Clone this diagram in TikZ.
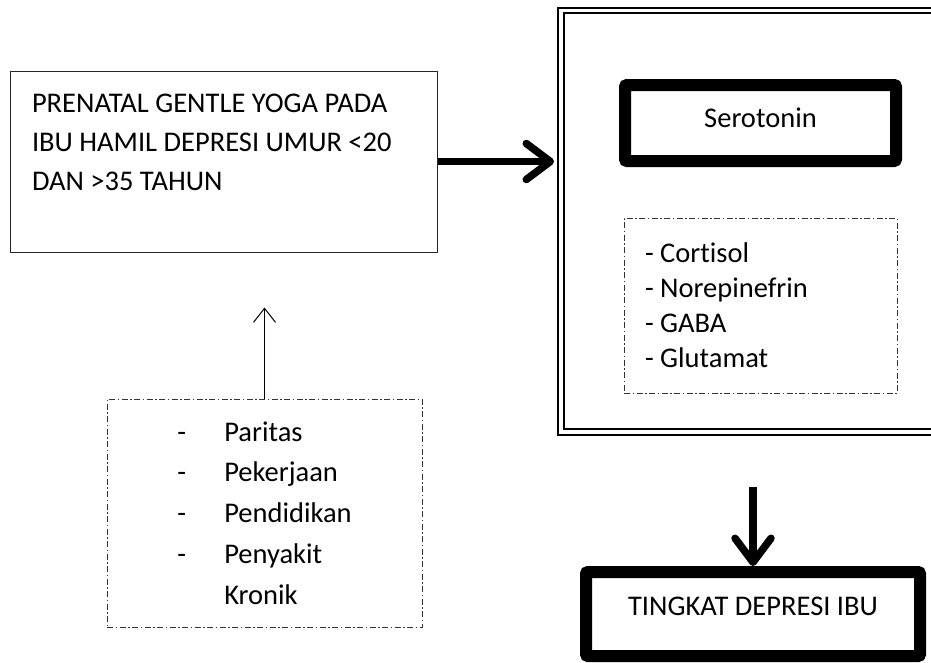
\documentclass[tikz,border=0pt]{standalone}
\usepackage{fontspec}
\setmainfont{Carlito}[Ligatures={NoCommon}]
\usetikzlibrary{arrows.meta,positioning}

\begin{document}
\begin{tikzpicture}[x=1pt, y=-1pt, thick, auto]


\tikzstyle{box} = [
    rectangle, draw=black!85, line width=1pt, inner sep=0pt, font=\fontsize{28.5}{39}\selectfont]
\tikzstyle{dotbox} = [box, draw=black!80, dash pattern=on 6pt off 2.5pt on 1.5pt off 2.5pt]
\tikzstyle{boldbox} = [box, draw=black, line width=12pt, rounded corners=2pt]
\tikzstyle{doublebox} = [rectangle, draw=black, line width=2pt, double, double distance=3.5pt]
\tikzstyle{heavy} = [line width=7.5pt, -{Straight Barb[length=24pt, width=36pt, round]}]

\useasboundingbox (0,0) rectangle (931,662);
\clip (0,0) rectangle (931,662);

\node[box, minimum width=427pt, minimum height=181pt, text width=383pt, align=flush left] at (223.5,161.5) (yoga) {PRENATAL GENTLE YOGA PADA\\IBU HAMIL DEPRESI UMUR <20\\DAN >35 TAHUN\\~};

\node[doublebox, minimum width=384pt, minimum height=421.5pt] at (753,221.25) (frame) {};

\node[boldbox, minimum width=271pt, minimum height=76pt, text depth=10pt] at (760.5,123) (serotonin) {Serotonin};

\node[dotbox, minimum width=273pt, minimum height=175pt, text width=231pt, align=flush left, font=\fontsize{28.5}{35}\selectfont] at (760.5,305.5) (hormon) {- Cortisol\\- Norepinefrin\\- GABA\\- Glutamat};

\node[dotbox, minimum width=315pt, minimum height=228pt, align=flush left, font=\fontsize{28.5}{40.75}\selectfont] at (264.5,513) (faktor) {\makebox[47pt][l]{-}Paritas\\\makebox[47pt][l]{-}Pekerjaan\\\makebox[47pt][l]{-}Pendidikan\\\makebox[47pt][l]{-}Penyakit\\\makebox[47pt][l]{}Kronik};

\node[boldbox, minimum width=334pt, minimum height=84pt, text depth=16pt] at (753,614) (tingkat) {TINGKAT DEPRESI IBU};


\path[heavy, shorten >=6pt]
  (yoga.east) edge (yoga.east -| frame.west)
;

\path[heavy, shorten <=54pt]
  (frame.south) edge (tingkat.north)
;

\path[line width=1pt, -{Straight Barb[length=14pt, width=22pt]}, shorten >=55pt]
  (faktor.north) edge (faktor.north |- yoga.south)
;


\end{tikzpicture}
\end{document}
